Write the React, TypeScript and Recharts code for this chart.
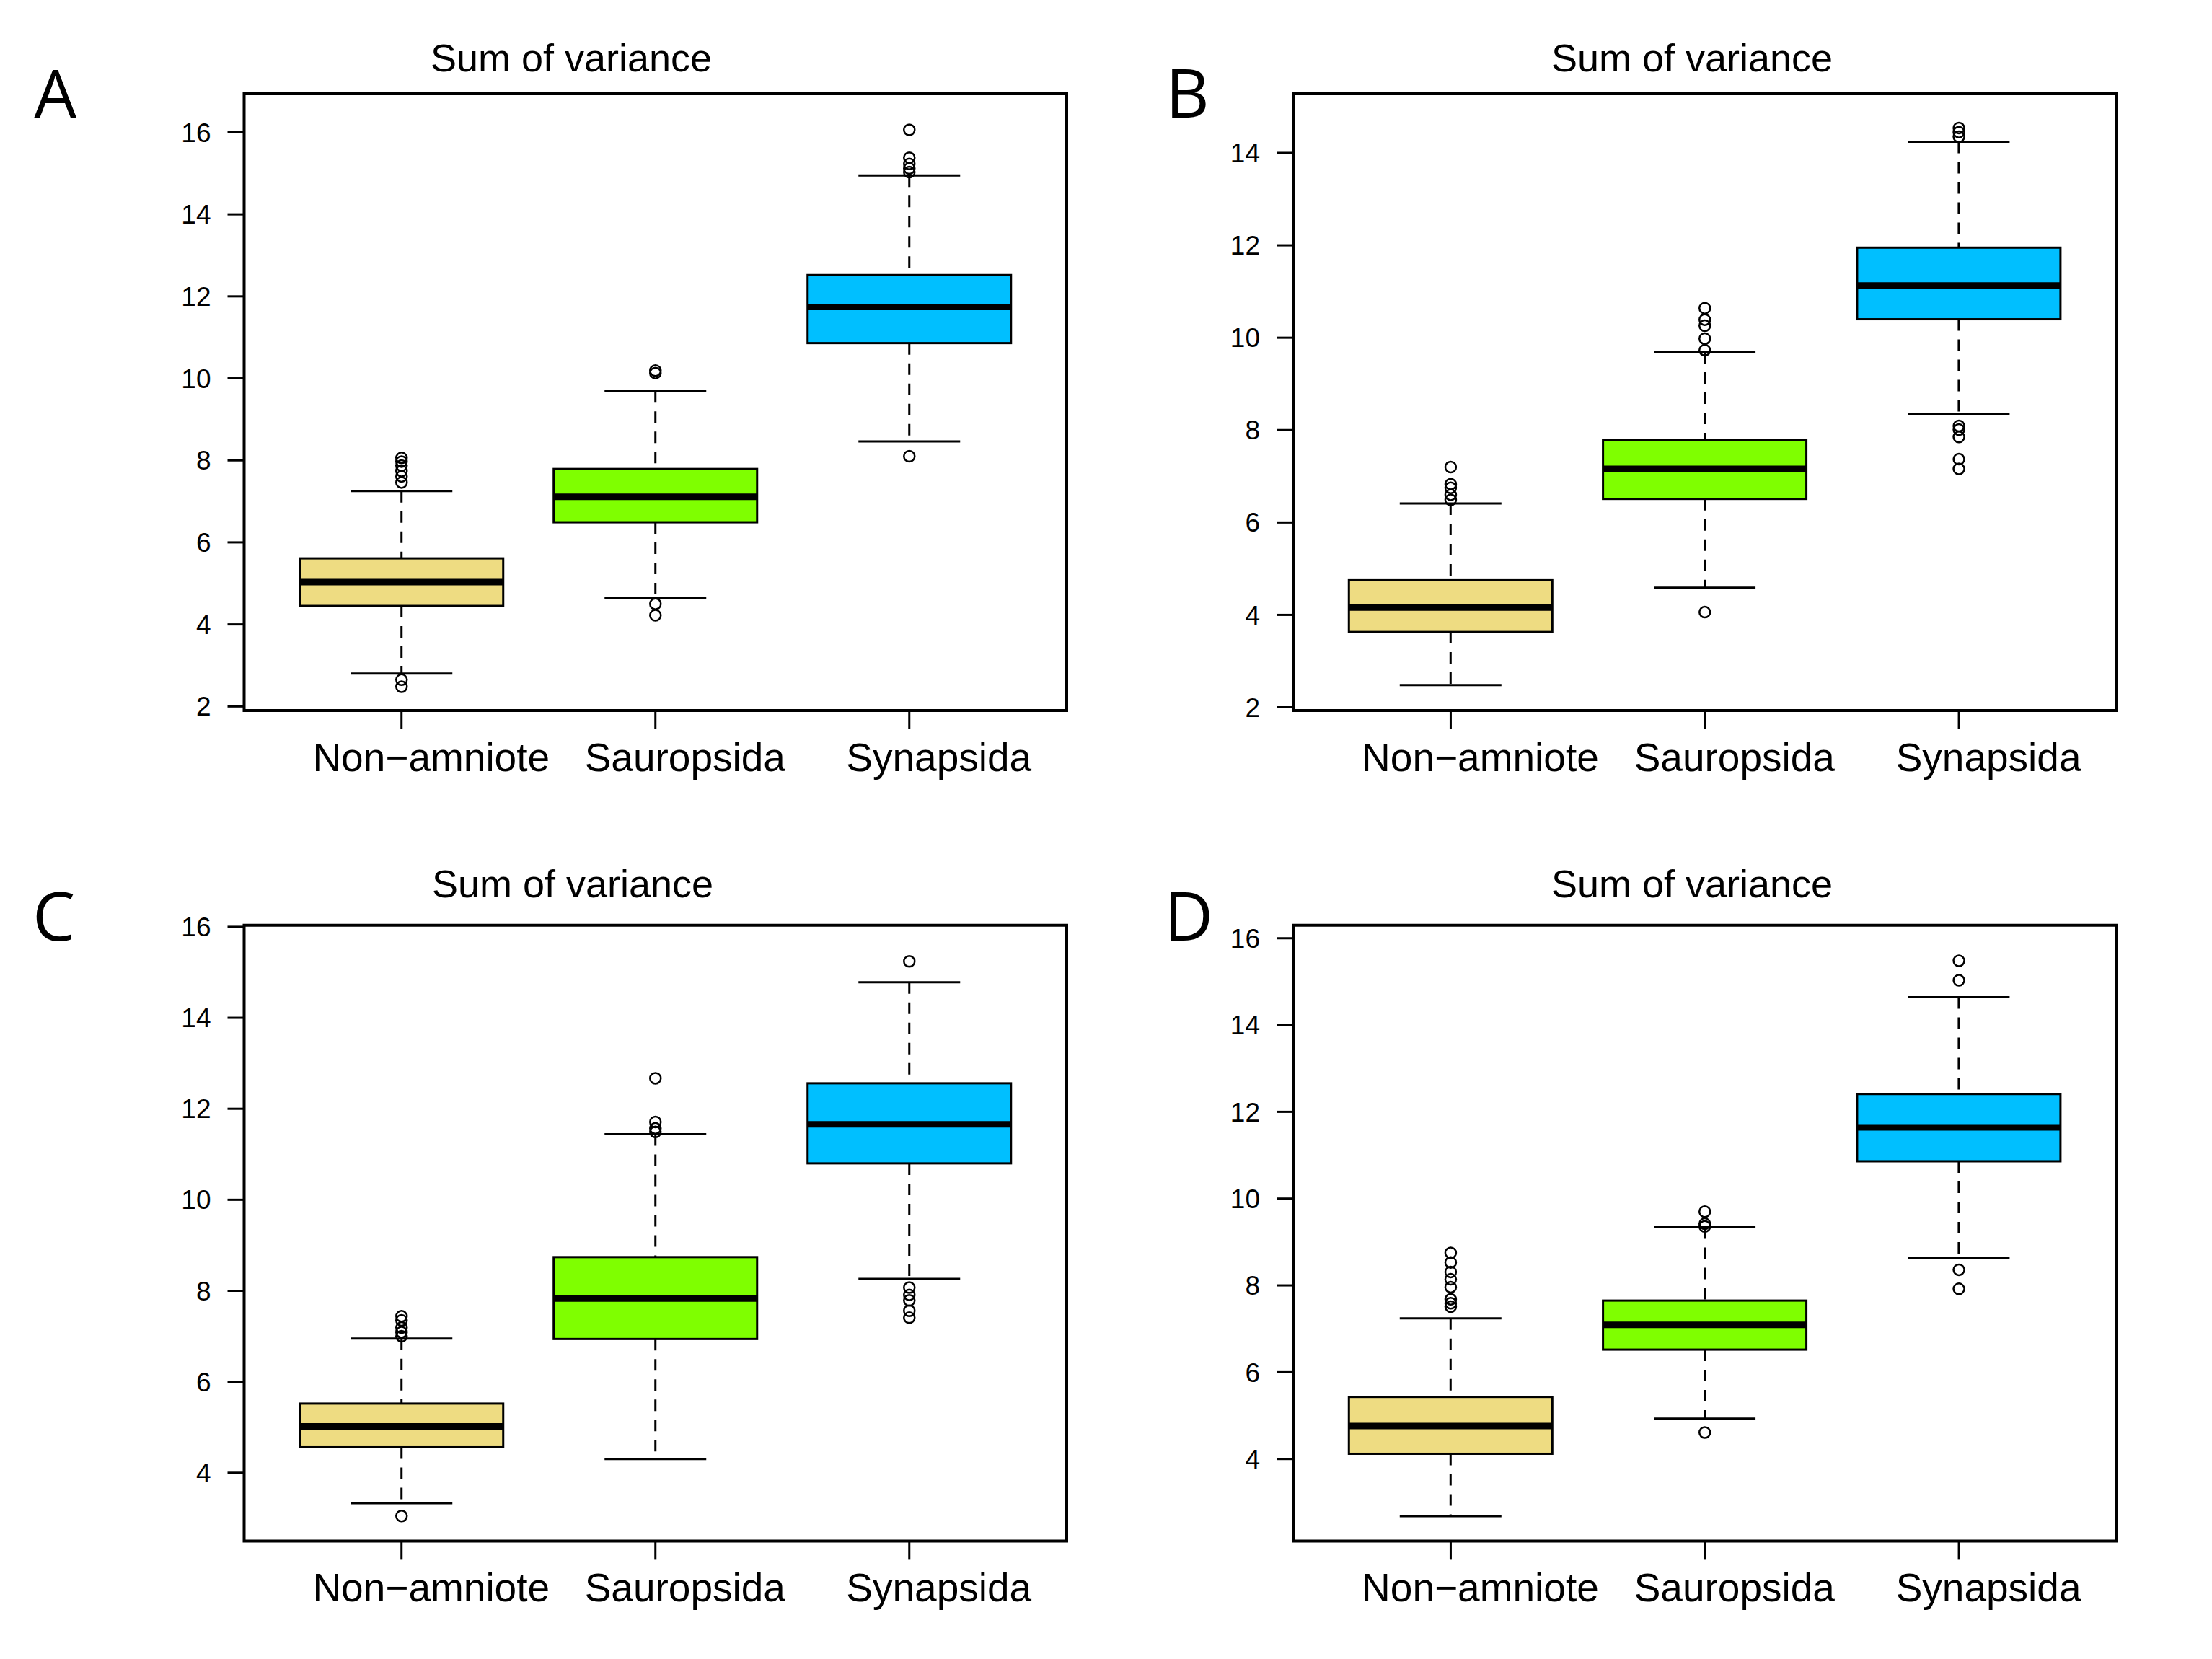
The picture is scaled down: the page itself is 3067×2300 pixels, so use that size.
import * as React from 'react';
import {
  ComposedChart,
  Bar,
  Scatter,
  XAxis,
  YAxis,
  ReferenceArea,
} from 'recharts';

// groups and fill colours (same for all four panels)
const CATEGORIES = ['Non\u2212amniote', 'Sauropsida', 'Synapsida'];
const BOX_COLORS = ['#EEDC82', '#7FFF00', '#00BFFF'];

// panel A
const A_LOWER = [2.8, 4.65, 8.46];
const A_Q1 = [4.45, 6.49, 10.86];
const A_MEDIAN = [5.03, 7.11, 11.74];
const A_Q3 = [5.61, 7.79, 12.52];
const A_UPPER = [7.25, 9.69, 14.95];
const A_OUTLIERS = [
  [8.06, 7.97, 7.87, 7.74, 7.61, 7.46, 2.65, 2.48],
  [10.19, 10.13, 4.5, 4.22],
  [16.06, 15.38, 15.23, 15.12, 15.03, 8.1],
];
const A_TICKS = [2, 4, 6, 8, 10, 12, 14, 16];
const A_DOMAIN = [1.9, 16.94];

// panel B
const B_LOWER = [2.48, 4.59, 8.34];
const B_Q1 = [3.63, 6.51, 10.4];
const B_MEDIAN = [4.16, 7.16, 11.13];
const B_Q3 = [4.75, 7.79, 11.95];
const B_UPPER = [6.41, 9.69, 14.24];
const B_OUTLIERS = [
  [7.2, 6.83, 6.75, 6.6, 6.49],
  [10.64, 10.39, 10.26, 9.98, 9.73, 4.06],
  [14.54, 14.45, 14.35, 8.09, 8.01, 7.85, 7.37, 7.16],
];
const B_TICKS = [2, 4, 6, 8, 10, 12, 14];
const B_DOMAIN = [1.93, 15.28];

// panel C
const C_LOWER = [3.33, 4.3, 8.26];
const C_Q1 = [4.56, 6.94, 10.8];
const C_MEDIAN = [5.02, 7.83, 11.66];
const C_Q3 = [5.52, 8.74, 12.56];
const C_UPPER = [6.95, 11.44, 14.78];
const C_OUTLIERS = [
  [7.44, 7.35, 7.19, 7.09, 7.0, 3.05],
  [12.67, 11.71, 11.57, 11.49],
  [15.24, 8.07, 7.91, 7.79, 7.56, 7.41],
];
const C_TICKS = [4, 6, 8, 10, 12, 14, 16];
const C_DOMAIN = [2.5, 16.035];

// panel D
const D_LOWER = [2.68, 4.93, 8.63];
const D_Q1 = [4.12, 6.52, 10.86];
const D_MEDIAN = [4.76, 7.09, 11.64];
const D_Q3 = [5.43, 7.65, 12.41];
const D_UPPER = [7.24, 9.34, 14.64];
const D_OUTLIERS = [
  [8.75, 8.53, 8.31, 8.14, 7.96, 7.68, 7.59, 7.51],
  [9.7, 9.42, 9.36, 4.61],
  [15.48, 15.03, 8.36, 7.92],
];
const D_TICKS = [4, 6, 8, 10, 12, 14, 16];
const D_DOMAIN = [2.11, 16.3];

const X_DOMAIN = [0.38, 3.62];
const X_TICKS = [1, 2, 3];

const FONT = "'Liberation Sans', Arial, Helvetica, sans-serif";

type Stats = {
  lower: number[];
  q1: number[];
  median: number[];
  q3: number[];
  upper: number[];
  outliers: number[][];
  ticks: number[];
  domain: number[];
};

// draws box, median, dashed whiskers and staples inside the bar spanning lower..upper whisker
function BoxShape(props: any) {
  const { x, y, width, height, payload } = props;
  if (payload == null || width == null) return null;
  const top = Math.min(y, y + height);
  const h = Math.abs(height);
  const lo = payload.lower;
  const hi = payload.upper;
  const py = (v: number) => top + (h * (hi - v)) / (hi - lo);
  const cx = x + width / 2;
  const cap = width / 4;
  const yQ1 = py(payload.q1);
  const yQ3 = py(payload.q3);
  const yMed = py(payload.median);
  return (
    <g>
      <line x1={cx} x2={cx} y1={top} y2={yQ3} stroke="#000" strokeWidth={3} strokeDasharray="16 12" />
      <line x1={cx} x2={cx} y1={yQ1} y2={top + h} stroke="#000" strokeWidth={3} strokeDasharray="16 12" />
      <line x1={cx - cap} x2={cx + cap} y1={top} y2={top} stroke="#000" strokeWidth={3} />
      <line x1={cx - cap} x2={cx + cap} y1={top + h} y2={top + h} stroke="#000" strokeWidth={3} />
      <rect x={x} y={yQ3} width={width} height={yQ1 - yQ3} fill={payload.color} stroke="#000" strokeWidth={3} />
      <line x1={x} x2={x + width} y1={yMed} y2={yMed} stroke="#000" strokeWidth={9} />
    </g>
  );
}

function OutlierDot(props: any) {
  const { cx, cy } = props;
  if (cx == null || cy == null) return null;
  return <circle cx={cx} cy={cy} r={7.5} fill="none" stroke="#000" strokeWidth={2.5} />;
}

function XTick(props: any) {
  const { x, y, payload } = props;
  return (
    <text x={x + 41} y={y} dy="0.71em" textAnchor="middle" fontSize={55} fontFamily={FONT} fill="#000">
      {CATEGORIES[payload.value - 1]}
    </text>
  );
}

function Panel({
  stats,
  left,
  top,
  margin,
}: {
  stats: Stats;
  left: number;
  top: number;
  margin: { top: number; right: number; bottom: number; left: number };
}) {
  const rows = CATEGORIES.map((name, i) => ({
    x: i + 1,
    name,
    range: [stats.lower[i], stats.upper[i]],
    lower: stats.lower[i],
    q1: stats.q1[i],
    median: stats.median[i],
    q3: stats.q3[i],
    upper: stats.upper[i],
    color: BOX_COLORS[i],
  }));
  const points = stats.outliers.flatMap((vals, i) => vals.map((v) => ({ x: i + 1, y: v })));

  return (
    <div style={{ position: 'absolute', left, top }}>
      <ComposedChart width={1534} height={1150} data={rows} margin={margin}>
        <XAxis
          dataKey="x"
          type="number"
          domain={X_DOMAIN}
          ticks={X_TICKS}
          allowDataOverflow
          interval={0}
          axisLine={false}
          tickLine={{ stroke: '#000', strokeWidth: 3 }}
          tickSize={26}
          tickMargin={19}
          height={100}
          tick={<XTick />}
        />
        <YAxis
          type="number"
          domain={stats.domain}
          ticks={stats.ticks}
          allowDataOverflow
          interval={0}
          axisLine={false}
          tickLine={{ stroke: '#000', strokeWidth: 3 }}
          tickSize={23}
          tickMargin={23}
          width={100}
          tick={{ fontSize: 37, fontFamily: FONT, fill: '#000' }}
        />
        <ReferenceArea
          x1={X_DOMAIN[0]}
          x2={X_DOMAIN[1]}
          y1={stats.domain[0]}
          y2={stats.domain[1]}
          fill="none"
          fillOpacity={0}
          stroke="#000"
          strokeWidth={4}
          ifOverflow="visible"
        />
        <Bar dataKey="range" barSize={282} shape={<BoxShape />} isAnimationActive={false} />
        <Scatter data={points} dataKey="y" shape={<OutlierDot />} isAnimationActive={false} />
      </ComposedChart>
    </div>
  );
}

const PANEL_A: Stats = { lower: A_LOWER, q1: A_Q1, median: A_MEDIAN, q3: A_Q3, upper: A_UPPER, outliers: A_OUTLIERS, ticks: A_TICKS, domain: A_DOMAIN };
const PANEL_B: Stats = { lower: B_LOWER, q1: B_Q1, median: B_MEDIAN, q3: B_Q3, upper: B_UPPER, outliers: B_OUTLIERS, ticks: B_TICKS, domain: B_DOMAIN };
const PANEL_C: Stats = { lower: C_LOWER, q1: C_Q1, median: C_MEDIAN, q3: C_Q3, upper: C_UPPER, outliers: C_OUTLIERS, ticks: C_TICKS, domain: C_DOMAIN };
const PANEL_D: Stats = { lower: D_LOWER, q1: D_Q1, median: D_MEDIAN, q3: D_Q3, upper: D_UPPER, outliers: D_OUTLIERS, ticks: D_TICKS, domain: D_DOMAIN };

export default function App() {
  return (
    <div style={{ position: 'absolute', left: 0, top: 0, width: 3067, height: 2300, background: '#fff', overflow: 'hidden' }}>
      <Panel stats={PANEL_A} left={0} top={0} margin={{ top: 130, right: 55, bottom: 65, left: 238.5 }} />
      <Panel stats={PANEL_B} left={1534} top={0} margin={{ top: 130, right: 133.5, bottom: 65, left: 159 }} />
      <Panel stats={PANEL_C} left={0} top={1150} margin={{ top: 132.7, right: 55, bottom: 63.6, left: 238.5 }} />
      <Panel stats={PANEL_D} left={1534} top={1150} margin={{ top: 132.7, right: 133.5, bottom: 63.6, left: 159 }} />
      <svg width={3067} height={2300} style={{ position: 'absolute', left: 0, top: 0, pointerEvents: 'none' }}>
        <g fontFamily={FONT} fontSize={54} fill="#000" textAnchor="middle">
          <text x={792} y={99}>Sum of variance</text>
          <text x={2346} y={99}>Sum of variance</text>
          <text x={794} y={1244}>Sum of variance</text>
          <text x={2346} y={1244}>Sum of variance</text>
        </g>
        <g fontFamily="'Open Sans', sans-serif" fontSize={94} fill="#000">
          <text x={47} y={164}>A</text>
          <text x={1616} y={163}>B</text>
          <text x={45} y={1304}>C</text>
          <text x={1614} y={1304}>D</text>
        </g>
      </svg>
    </div>
  );
}
